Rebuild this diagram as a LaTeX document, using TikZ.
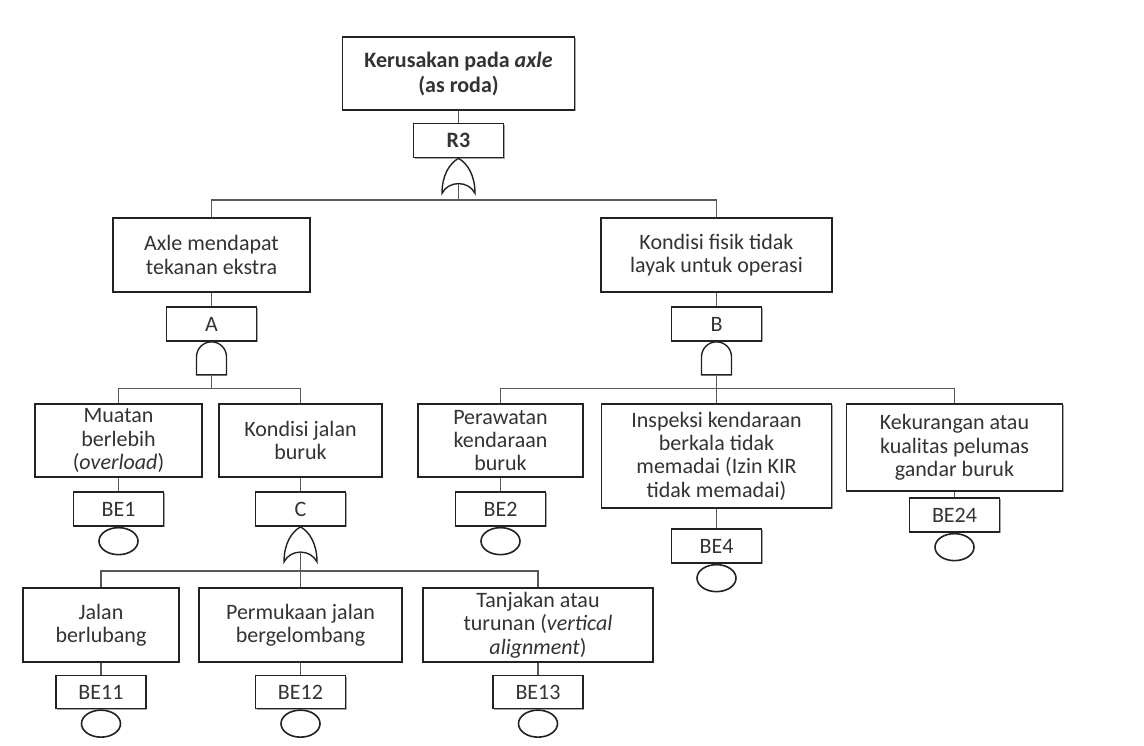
\documentclass[tikz,border=0pt]{standalone}
\usepackage{fontspec}
\setmainfont{Carlito}
\usetikzlibrary{shapes.geometric,shadows}

\definecolor{ink}{HTML}{333333}
\definecolor{edge}{HTML}{222222}
\definecolor{wire}{HTML}{585858}

\tikzset{
  box/.style={draw=edge, line width=1.7pt, fill=white, rectangle, inner sep=0pt,
    align=center, text=ink, font=\fontsize{22}{23.4}\selectfont,
    drop shadow={shadow xshift=1.3pt, shadow yshift=-1.3pt, opacity=0.35, fill=black}},
  gatebox/.style={box, minimum width=90pt, minimum height=34pt},
  evt/.style={draw=edge, line width=1.6pt, fill=white, ellipse, inner sep=0pt,
    minimum width=39pt, minimum height=27pt},
  wire/.style={draw=wire, line width=1.6pt},
  orgate/.pic={
    \draw[draw=edge, line width=1.4pt, fill=white]
      (0,0) .. controls (9,5) and (16.5,17) .. (16.5,35)
      .. controls (10,22) and (-10,22) .. (-16.5,35)
      .. controls (-16.5,17) and (-9,5) .. (0,0) -- cycle;
    \coordinate (-out) at (0,25.5);
  },
  andgate/.pic={
    \draw[draw=edge, line width=1.4pt, fill=white]
      (-15,33) -- (-15,15) .. controls (-15,6.7) and (-8.3,0) .. (0,0)
      .. controls (8.3,0) and (15,6.7) .. (15,15) -- (15,33) -- cycle;
    \coordinate (-out) at (0,33);
  },
}

\begin{document}
\begin{tikzpicture}[x=1pt, y=-1pt]
\useasboundingbox (0,0) rectangle (1144,746);
\fill[white] (0,0) rectangle (1144,746);

% ---- top event and its OR gate ----
\node[box, minimum width=232pt, minimum height=73pt,
      font=\fontsize{22}{25}\selectfont] (top) at (458.5,73.5)
  {\textbf{Kerusakan pada \textit{axle}}\\\textbf{(as roda)}};
\node[gatebox] (R3) at (458.5,140.5) {\textbf{R3}};
\pic (gR3) at (R3.south) {orgate};
\coordinate (barR3) at (458.5,200);

% ---- second level ----
\node[box, minimum width=197pt, minimum height=74pt] (axle) at (211.5,255)
  {Axle mendapat\\tekanan ekstra};
\node[box, minimum width=231pt, minimum height=74pt] (fisik) at (716.5,255)
  {Kondisi fisik tidak\\layak untuk operasi};
\node[gatebox] (A) at (211.5,324) {A};
\node[gatebox] (B) at (716.5,324) {B};
\pic (gA) at (A.south) {andgate};
\pic (gB) at (B.south) {andgate};
\coordinate (barA) at (211.5,388.5);
\coordinate (barB) at (716.5,388.5);

% ---- third level ----
\node[box, minimum width=167pt, minimum height=73pt] (muatan) at (118.5,440.5)
  {Muatan\\berlebih\\(\textit{overload})};
\node[box, minimum width=163pt, minimum height=73pt] (jalan) at (300.5,440.5)
  {Kondisi jalan\\buruk};
\node[box, minimum width=165pt, minimum height=73pt] (rawat) at (500.5,440.5)
  {Perawatan\\kendaraan\\buruk};
\node[box, minimum width=230pt, minimum height=104pt] (inspeksi) at (716.5,456)
  {Inspeksi kendaraan\\berkala tidak\\memadai (Izin KIR\\tidak memadai)};
\node[box, minimum width=216pt, minimum height=87pt] (pelumas) at (954.5,447.5)
  {Kekurangan atau\\kualitas pelumas\\gandar buruk};

\node[gatebox] (BE1) at (118.5,509) {BE1};
\node[gatebox] (C) at (300.5,509) {C};
\node[gatebox] (BE2) at (500.5,509) {BE2};
\node[gatebox] (BE4) at (716.5,546) {BE4};
\node[gatebox] (BE24) at (954.5,515) {BE24};
\pic (gC) at (C.south) {orgate};
\coordinate (barC) at (300.5,571);

% ---- fourth level ----
\node[box, minimum width=156pt, minimum height=74pt] (lubang) at (101,625)
  {Jalan\\berlubang};
\node[box, minimum width=203pt, minimum height=74pt] (gelombang) at (300.5,625)
  {Permukaan jalan\\bergelombang};
\node[box, minimum width=230pt, minimum height=74pt] (tanjakan) at (538,625)
  {Tanjakan atau\\turunan (\textit{vertical}\\\textit{alignment})};
\node[gatebox, minimum height=33pt] (BE11) at (101,692) {BE11};
\node[gatebox, minimum height=33pt] (BE12) at (300.5,692) {BE12};
\node[gatebox, minimum height=33pt] (BE13) at (538,692) {BE13};

% ---- basic event circles ----
\foreach \b in {BE1,BE2,BE4,BE24,BE11,BE12,BE13}
  \node[evt, anchor=north] (c\b) at (\b.south) {};

% ---- connectors ----
\draw[wire] (top.south) -- (R3.north);
\draw[wire] (gR3-out) -- (barR3);
\draw[wire] (axle.north) |- (barR3) -| (fisik.north);

\draw[wire] (axle.south) -- (A.north);
\draw[wire] (fisik.south) -- (B.north);
\draw[wire] (gA-out) -- (barA);
\draw[wire] (muatan.north) |- (barA) -| (jalan.north);
\draw[wire] (gB-out) -- (barB);
\draw[wire] (rawat.north) |- (barB) -| (pelumas.north);
\draw[wire] (barB) -- (inspeksi.north);

\draw[wire] (muatan.south) -- (BE1.north);
\draw[wire] (jalan.south) -- (C.north);
\draw[wire] (rawat.south) -- (BE2.north);
\draw[wire] (inspeksi.south) -- (BE4.north);
\draw[wire] (pelumas.south) -- (BE24.north);

\draw[wire] (gC-out) -- (barC);
\draw[wire] (lubang.north) |- (barC) -| (tanjakan.north);
\draw[wire] (barC) -- (gelombang.north);

\draw[wire] (lubang.south) -- (BE11.north);
\draw[wire] (gelombang.south) -- (BE12.north);
\draw[wire] (tanjakan.south) -- (BE13.north);
\end{tikzpicture}
\end{document}
